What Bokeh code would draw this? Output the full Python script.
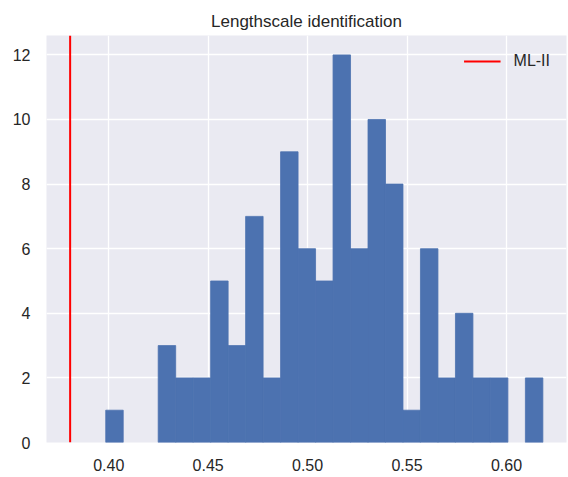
import numpy as np
from bokeh.plotting import figure
from bokeh.models import FixedTicker, NumeralTickFormatter, Range1d, Legend, LegendItem
from bokeh.embed import file_html
from bokeh.resources import INLINE

# Histogram data (25 equal bins)
bin_start = 0.3985
bin_end = 0.6183
counts = [1, 0, 0, 3, 2, 2, 5, 3, 7, 2, 9, 6, 5, 12, 6, 10, 8, 1, 6, 2, 4, 2, 2, 0, 2]
ml_ii = 0.3806
x_ticks = [0.40, 0.45, 0.50, 0.55, 0.60]
y_ticks = [0, 2, 4, 6, 8, 10, 12]

edges = np.linspace(bin_start, bin_end, len(counts) + 1)
c = np.array(counts)
mask = c > 0
lefts = edges[:-1][mask]
rights = edges[1:][mask]
tops = c[mask]

span = bin_end - ml_ii
x0 = ml_ii - 0.05 * span
x1 = bin_end + 0.05 * span
ymax = max(counts) * 1.05

p = figure(width=568, height=477, output_backend="svg", toolbar_location=None,
           x_range=Range1d(x0, x1), y_range=Range1d(0, ymax),
           min_border_left=46, min_border_right=2, min_border_top=35, min_border_bottom=35)

p.title.text = "Lengthscale identification"
p.title.align = "center"
p.title.text_font = "Liberation Sans"
p.title.text_font_size = "17px"
p.title.text_font_style = "normal"
p.title.text_color = "#262626"

p.background_fill_color = "#EAEAF2"
p.border_fill_color = "white"
p.outline_line_color = None

p.quad(left=lefts, right=rights, bottom=0, top=tops,
       fill_color="#4C72B0", line_color="#4C72B0", line_width=0.8)

r = p.line(x=[ml_ii, ml_ii], y=[0, ymax], line_color="red", line_width=2)

legend = Legend(items=[LegendItem(label="ML-II", renderers=[r])], location="top_right")
legend.border_line_color = None
legend.background_fill_alpha = 0
legend.label_text_font = "Liberation Sans"
legend.label_text_font_size = "16px"
legend.label_text_color = "#262626"
legend.glyph_width = 37
legend.label_standoff = 13
legend.margin = 16
legend.padding = 8
p.add_layout(legend)

for ax in (p.xaxis, p.yaxis):
    ax.axis_line_color = None
    ax.major_tick_line_color = None
    ax.minor_tick_line_color = None
    ax.major_label_text_font = "Liberation Sans"
    ax.major_label_text_font_size = "16px"
    ax.major_label_text_color = "#262626"

p.xaxis.ticker = FixedTicker(ticks=x_ticks)
p.xaxis.formatter = NumeralTickFormatter(format="0.00")
p.yaxis.ticker = FixedTicker(ticks=y_ticks)
p.xaxis.major_label_standoff = 10
p.yaxis.major_label_standoff = 10

p.xgrid.grid_line_color = "white"
p.ygrid.grid_line_color = "white"
p.xgrid.grid_line_width = 1.3
p.ygrid.grid_line_width = 1.3

open("out.html", "w").write(file_html(p, INLINE))
